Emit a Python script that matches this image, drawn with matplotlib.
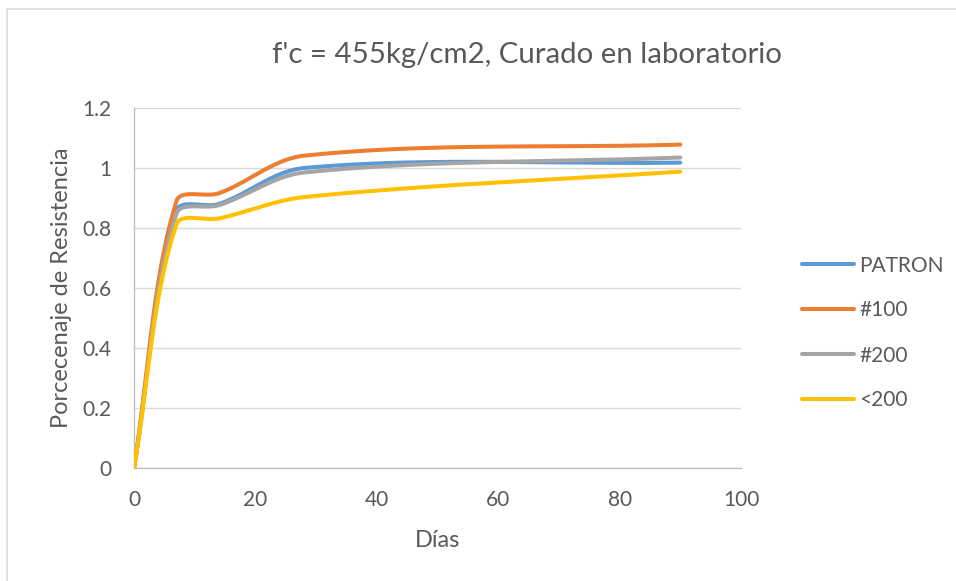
import numpy as np
import matplotlib
matplotlib.use("Agg")
import matplotlib.pyplot as plt
from matplotlib.patches import Rectangle

plt.rcParams["font.family"] = ["Lato", "DejaVu Sans"]

# Test ages (days) and relative strength for each mix
dias = [0, 7, 14, 28, 90]
patron = [0, 0.858, 0.880, 1.000, 1.018]
m100 = [0, 0.890, 0.916, 1.041, 1.078]
m200 = [0, 0.848, 0.876, 0.985, 1.035]
menor200 = [0, 0.812, 0.832, 0.903, 0.988]

series_names = ["PATRON", "#100", "#200", "<200"]
series_values = [patron, m100, m200, menor200]
series_colors = ["#5B9BD5", "#ED7D31", "#A5A5A5", "#FFC000"]

x_ticks = [0, 20, 40, 60, 80, 100]
y_ticks = [0, 0.2, 0.4, 0.6, 0.8, 1.0, 1.2]
y_tick_labels = ["0", "0.2", "0.4", "0.6", "0.8", "1", "1.2"]


def smooth(ax, xs, ys, n=80):
    """Smoothed line through the points, built as cubic Bezier segments in
    display space; tangents are scaled by neighbouring segment lengths so the
    curve does not overshoot where point spacing is uneven."""
    P = ax.transData.transform(np.column_stack([xs, ys]).astype(float))
    out = [P[0]]
    t = np.linspace(0, 1, n)[1:, None]
    m = len(P)
    for i in range(m - 1):
        p1, p2 = P[i], P[i + 1]
        d12 = np.hypot(*(p2 - p1))
        if i > 0:
            p0 = P[i - 1]
            d01 = np.hypot(*(p1 - p0))
            c1 = p1 + (p2 - p0) * d12 / (d01 + d12) / 3.0
        else:
            c1 = p1 + (p2 - p1) / 3.0
        if i + 2 < m:
            p3 = P[i + 2]
            d23 = np.hypot(*(p3 - p2))
            c2 = p2 - (p3 - p1) * d12 / (d12 + d23) / 3.0
        else:
            c2 = p2 - (p2 - p1) / 3.0
        seg = ((1 - t) ** 3) * p1 + 3 * ((1 - t) ** 2) * t * c1 \
            + 3 * (1 - t) * t ** 2 * c2 + t ** 3 * p2
        out.extend(seg)
    out = ax.transData.inverted().transform(np.array(out))
    return out[:, 0], out[:, 1]


W, H = 956, 581
fig = plt.figure(figsize=(W / 100, H / 100), dpi=100)
fig.patch.set_facecolor("white")

# chart frame
fig.add_artist(Rectangle((7 / W, -0.05), 1.2, (H - 9) / H + 0.05,
                         transform=fig.transFigure, fill=False,
                         edgecolor="#D9D9D9", linewidth=1.2))

left, right, top, bottom = 134, 741, 108, 468
ax = fig.add_axes([left / W, 1 - bottom / H, (right - left) / W, (bottom - top) / H])
ax.set_xlim(0, 100)
ax.set_ylim(0, 1.2)

for name, vals, col in zip(series_names, series_values, series_colors):
    sx, sy = smooth(ax, dias, vals)
    ax.plot(sx, sy, color=col, linewidth=2.9, solid_capstyle="round",
            label=name, zorder=3)

ax.set_xticks(x_ticks)
ax.set_yticks(y_ticks)
ax.set_yticklabels(y_tick_labels)
ax.tick_params(axis="both", length=0, labelsize=15, colors="#595959")
ax.tick_params(axis="x", pad=16)
ax.tick_params(axis="y", pad=16)
ax.grid(axis="y", color="#D9D9D9", linewidth=1.0, zorder=0)
for s in ["top", "right"]:
    ax.spines[s].set_visible(False)
for s in ["left", "bottom"]:
    ax.spines[s].set_color("#BFBFBF")
    ax.spines[s].set_linewidth(1.0)

ax.set_xlabel("Días", fontsize=17, color="#595959", labelpad=14)
ax.set_ylabel("Porcecenaje de Resistencia", fontsize=17, color="#595959", labelpad=8)

fig.text(527 / W, 1 - 55 / H, "f'c = 455kg/cm2, Curado en laboratorio",
         ha="center", va="center", fontsize=21.2, color="#595959")

leg = ax.legend(loc="center left", bbox_to_anchor=(783 / W, 1 - 333 / H),
                bbox_transform=fig.transFigure, frameon=False, fontsize=15,
                handlelength=2.5, handletextpad=0.25, labelspacing=1.2)
for t in leg.get_texts():
    t.set_color("#595959")

fig.savefig("out.png", dpi=100, facecolor="white")
